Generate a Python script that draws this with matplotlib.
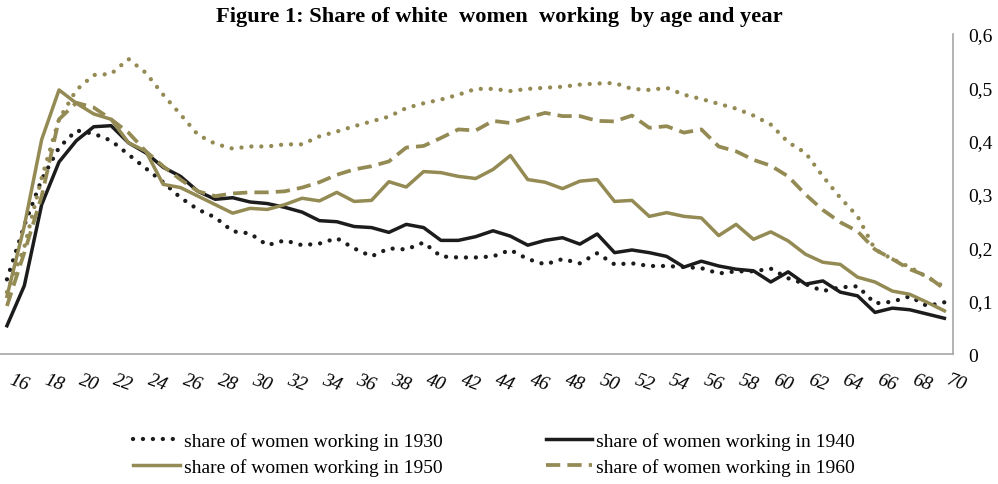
import matplotlib.pyplot as plt
import numpy as np

ages = list(range(16, 71))

share_1930 = [0.14, 0.241, 0.327, 0.387, 0.419, 0.413, 0.4, 0.374, 0.348, 0.322,
              0.293, 0.271, 0.256, 0.23, 0.226, 0.204, 0.213, 0.204, 0.207, 0.217,
              0.198, 0.183, 0.198, 0.196, 0.209, 0.183, 0.181, 0.181, 0.183, 0.195,
              0.178, 0.168, 0.178, 0.17, 0.189, 0.168, 0.17, 0.165, 0.165, 0.163,
              0.161, 0.151, 0.155, 0.155, 0.16, 0.142, 0.131, 0.118, 0.125, 0.127,
              0.095, 0.098, 0.108, 0.09, 0.097]
share_1940 = [0.053, 0.128, 0.28, 0.36, 0.4, 0.426, 0.428, 0.396, 0.377, 0.35,
              0.333, 0.305, 0.29, 0.293, 0.285, 0.282, 0.275, 0.266, 0.25, 0.248,
              0.239, 0.237, 0.228, 0.243, 0.237, 0.213, 0.213, 0.22, 0.231, 0.221,
              0.204, 0.213, 0.218, 0.206, 0.225, 0.19, 0.195, 0.19, 0.183, 0.163,
              0.174, 0.165, 0.159, 0.156, 0.135, 0.154, 0.131, 0.137, 0.116, 0.109,
              0.078, 0.086, 0.083, 0.075, 0.067]
share_1950 = [0.108, 0.24, 0.402, 0.495, 0.47, 0.45, 0.44, 0.396, 0.38, 0.318,
              0.312, 0.296, 0.28, 0.264, 0.273, 0.271, 0.28, 0.292, 0.287, 0.303,
              0.286, 0.288, 0.323, 0.313, 0.342, 0.34, 0.333, 0.329, 0.346, 0.372,
              0.327, 0.322, 0.31, 0.324, 0.327, 0.286, 0.288, 0.258, 0.265, 0.258,
              0.255, 0.222, 0.243, 0.215, 0.229, 0.212, 0.187, 0.172, 0.168, 0.144,
              0.135, 0.118, 0.112, 0.097, 0.081]
share_1960 = [0.09, 0.19, 0.296, 0.44, 0.471, 0.462, 0.44, 0.415, 0.38, 0.352,
              0.327, 0.305, 0.296, 0.301, 0.303, 0.303, 0.305, 0.312, 0.322, 0.336,
              0.346, 0.352, 0.361, 0.387, 0.39, 0.405, 0.421, 0.419, 0.437, 0.433,
              0.443, 0.452, 0.446, 0.446, 0.437, 0.436, 0.447, 0.424, 0.427, 0.415,
              0.421, 0.389, 0.38, 0.364, 0.353, 0.333, 0.299, 0.27, 0.247, 0.23,
              0.196, 0.178, 0.159, 0.146, 0.122]
share_extra = [0.116, 0.2, 0.33, 0.44, 0.495, 0.523, 0.525, 0.553, 0.527, 0.486,
               0.449, 0.411, 0.394, 0.385, 0.389, 0.389, 0.393, 0.393, 0.408, 0.417,
               0.427, 0.436, 0.445, 0.461, 0.47, 0.477, 0.486, 0.497, 0.497, 0.493,
               0.497, 0.499, 0.501, 0.505, 0.507, 0.508, 0.497, 0.495, 0.499, 0.486,
               0.478, 0.469, 0.46, 0.447, 0.43, 0.397, 0.377, 0.333, 0.293, 0.258,
               0.196, 0.178, 0.163, 0.144, 0.126]

x_labels = [str(a) for a in range(16, 71, 2)]
y_labels = ["0", "0,1", "0,2", "0,3", "0,4", "0,5", "0,6"]

gold = "#948a54"
dark = "#1c1c1c"
plt.rcParams['font.family'] = ['Liberation Serif', 'DejaVu Serif']

fig = plt.figure(figsize=(9.98, 4.85), dpi=100)
ax = fig.add_axes([0.0, 0.268, 0.955, 0.66])

dots = (0, (0.01, 2.3))
ax.plot(ages, share_1930, color=dark, lw=3.1, linestyle=dots,
        dash_capstyle="round", label="share of women working in 1930")
ax.plot(ages, share_1940, color=dark, lw=2.5, label="share of women working in 1940")
ax.plot(ages, share_1950, color=gold, lw=2.5, label="share of women working in 1950")
ax.plot(ages, share_1960, color=gold, lw=2.7, linestyle=(0, (3.8, 1.9)),
        label="share of women working in 1960")
ax.plot(ages, share_extra, color=gold, lw=3.1, linestyle=dots,
        dash_capstyle="round")

ax.set_xlim(15.6, 70.5)
ax.set_ylim(0, 0.6)
ax.set_xticks(range(16, 71, 2))
ax.set_xticklabels(x_labels, rotation=-20, fontsize=14, style="italic", ha="left")
ax.set_yticks(np.arange(0, 0.61, 0.1))
ax.set_yticklabels(y_labels, fontsize=14)
ax.yaxis.tick_right()
ax.tick_params(axis="both", length=0)
ax.tick_params(axis="x", pad=12)
ax.tick_params(axis="y", pad=11)
for side in ["top", "left"]:
    ax.spines[side].set_visible(False)
for side in ["bottom", "right"]:
    ax.spines[side].set_color("#a6a6a6")
    ax.spines[side].set_linewidth(1.2)

fig.suptitle("Figure 1: Share of white  women  working  by age and year",
             fontsize=16.2, fontweight="bold", y=0.985)

handles, labels = ax.get_legend_handles_labels()
order = [0, 2, 1, 3]
fig.legend([handles[i] for i in order], [labels[i] for i in order],
           loc="center", bbox_to_anchor=(0.495, 0.062), ncol=2,
           frameon=False, fontsize=14, handlelength=2.4, handletextpad=0.2,
           columnspacing=5.3, labelspacing=0.45)

plt.savefig("out.png", dpi=100)
